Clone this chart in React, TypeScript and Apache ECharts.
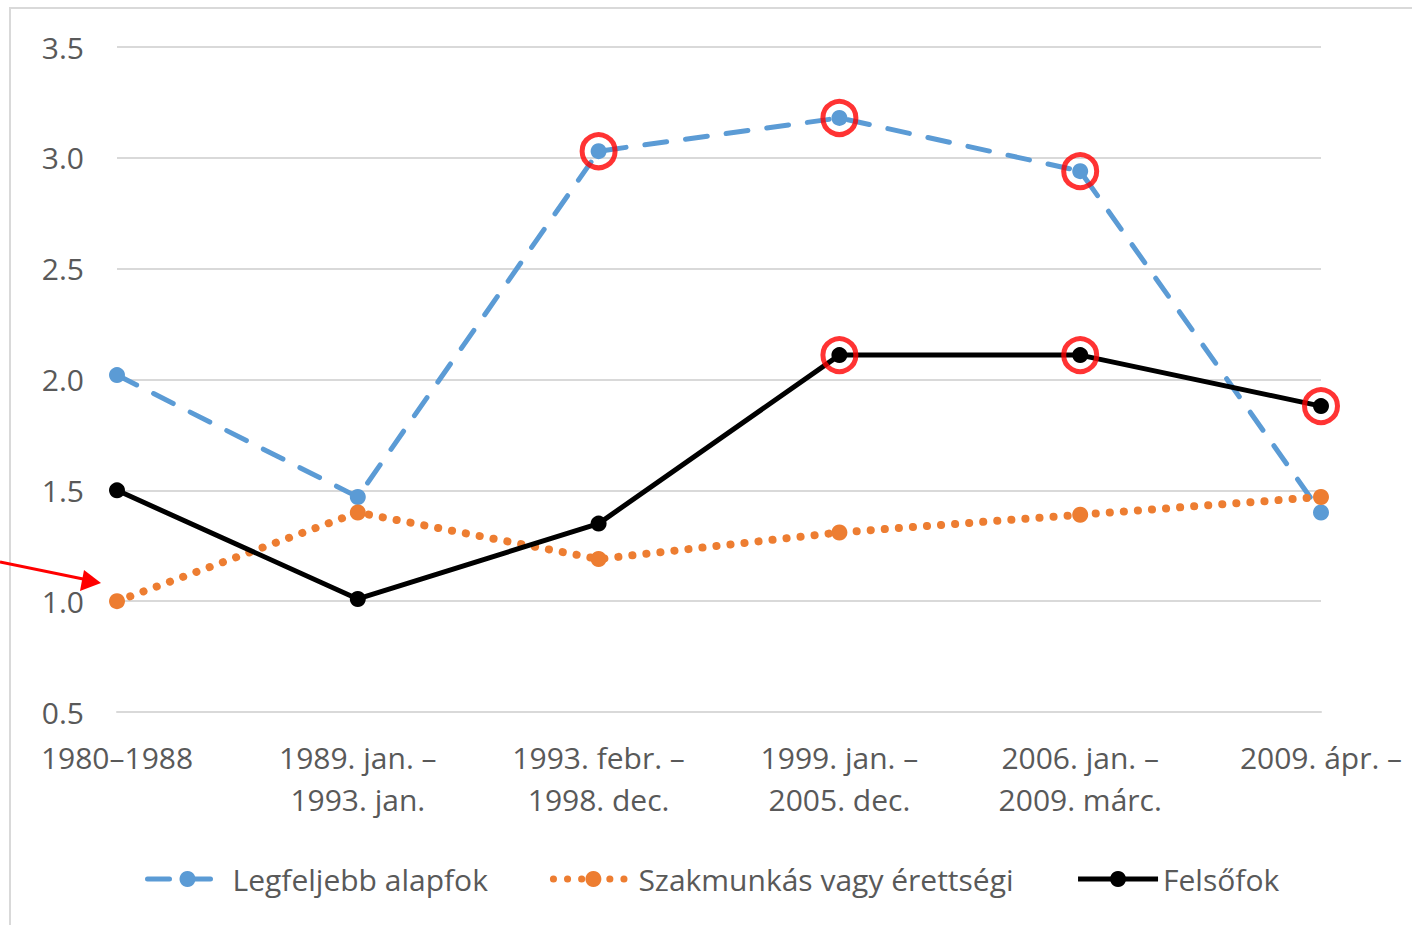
import React, { useEffect, useRef } from "react";
import * as echarts from "echarts";

const categories = [
  "1980–1988",
  "1989. jan. –\n1993. jan.",
  "1993. febr. –\n1998. dec.",
  "1999. jan. –\n2005. dec.",
  "2006. jan. –\n2009. márc.",
  "2009. ápr. –",
];
const seriesNames = ["Legfeljebb alapfok", "Szakmunkás vagy érettségi", "Felsőfok"];
const basicValues = [2.02, 1.47, 3.03, 3.18, 2.94, 1.4];
const vocationalValues = [1.0, 1.4, 1.19, 1.31, 1.39, 1.47];
const higherValues = [1.5, 1.01, 1.35, 2.11, 2.11, 1.88];
const basicHighlighted = [2, 3, 4];
const higherHighlighted = [3, 4, 5];

const FONT = "Open Sans";
const TEXT = "#595959";
const BLUE = "#5b9bd5";
const ORANGE = "#ed7d31";
const BLACK = "#000000";

export default function App() {
  const ref = useRef<HTMLDivElement>(null);
  useEffect(() => {
    if (!ref.current) return;
    const chart = echarts.init(ref.current, undefined, { renderer: "svg" });
    const highlights = [
      ...basicHighlighted.map((i) => [i, basicValues[i]]),
      ...higherHighlighted.map((i) => [i, higherValues[i]]),
    ];
    const blueLine = { color: BLUE, width: 5, type: [22, 19], cap: "round" };
    const orangeLine = { color: ORANGE, width: 8, type: [0.1, 14], cap: "round" };
    const blackLine = { color: BLACK, width: 5 };
    chart.setOption({
      animation: false,
      backgroundColor: "#ffffff",
      textStyle: { fontFamily: FONT },
      grid: { left: 117, right: 91, top: 47, bottom: 213 },
      legend: {
        bottom: 26,
        left: 140,
        data: [
          { name: seriesNames[0], lineStyle: { width: 5, type: [22, 19], cap: "round" } },
          { name: seriesNames[1], lineStyle: { width: 7, type: [0.1, 14], cap: "round" } },
          { name: seriesNames[2], lineStyle: { width: 5 } },
        ],
        itemWidth: 80,
        itemHeight: 20,
        itemGap: 62,
        textStyle: { fontFamily: FONT, fontSize: 30, color: TEXT },
      },
      xAxis: {
        type: "category",
        data: categories,
        boundaryGap: false,
        axisLine: { lineStyle: { color: "#d9d9d9", width: 2 } },
        axisTick: { show: false },
        axisLabel: {
          interval: 0,
          margin: 24,
          fontFamily: FONT,
          fontSize: 30,
          color: TEXT,
          lineHeight: 42,
        },
      },
      yAxis: {
        type: "value",
        min: 0.5,
        max: 3.5,
        interval: 0.5,
        axisLine: { show: false },
        axisTick: { show: false },
        splitLine: { lineStyle: { color: "#d9d9d9", width: 2 } },
        axisLabel: {
          margin: 33,
          fontFamily: FONT,
          fontSize: 30,
          color: TEXT,
          formatter: (v: number) => v.toFixed(1),
        },
      },
      series: [
        {
          name: seriesNames[0],
          type: "line",
          data: basicValues,
          symbol: "circle",
          symbolSize: 16,
          itemStyle: { color: BLUE },
          lineStyle: blueLine,
        },
        {
          name: seriesNames[1],
          type: "line",
          data: vocationalValues,
          symbol: "circle",
          symbolSize: 16,
          itemStyle: { color: ORANGE },
          lineStyle: orangeLine,
        },
        {
          name: seriesNames[2],
          type: "line",
          data: higherValues,
          symbol: "circle",
          symbolSize: 16,
          itemStyle: { color: BLACK },
          lineStyle: blackLine,
        },
        {
          name: "highlight",
          type: "scatter",
          data: highlights,
          symbol: "circle",
          symbolSize: 33,
          silent: true,
          itemStyle: { color: "rgba(0,0,0,0)", borderColor: "#ff0000", borderWidth: 5 },
          z: 5,
        },
      ],
      graphic: [
        {
          type: "rect",
          shape: { x: 10, y: 8, width: 1500, height: 1000 },
          style: { fill: "none", stroke: "#d9d9d9", lineWidth: 2 },
          silent: true,
        },
        {
          type: "line",
          shape: { x1: 0, y1: 562, x2: 88, y2: 580 },
          style: { stroke: "#ff0000", lineWidth: 3 },
          z: 10,
        },
        {
          type: "polygon",
          shape: { points: [[101, 583], [84, 570], [80, 591]] },
          style: { fill: "#ff0000" },
          z: 10,
        },
      ],
    });
    return () => chart.dispose();
  }, []);
  return (
    <div
      ref={ref}
      style={{ position: "fixed", left: 0, top: 0, width: 1412, height: 925 }}
    />
  );
}
